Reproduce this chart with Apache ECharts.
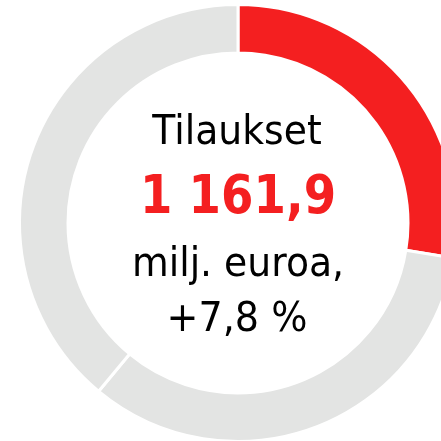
<!DOCTYPE html>
<html>
<head>
<meta charset="utf-8">
<script src="https://cdn.jsdelivr.net/npm/echarts@6/dist/echarts.min.js"></script>
<style>
  html, body { margin: 0; padding: 0; background: #fff; }
  #chart { width: 441px; height: 441px; }
</style>
</head>
<body>
<div id="chart"></div>
<script>
// osuudet (arvioitu kuvasta)
var names = ['Tilaukset', 'Muut A', 'Muut B'];
var values = [1161.9, 1410, 1644];
var colors = ['#f41f20', '#e3e4e3', '#e3e4e3'];
var lines = ['Tilaukset', '1 161,9', 'milj. euroa,', '+7,8 %'];

var myChart = echarts.init(document.getElementById('chart'));
var fontFamily = '"DejaVu Sans", Verdana, sans-serif';

var option = {
  animation: false,
  series: [{
    type: 'pie',
    center: [238, 223],
    radius: [170, 218.5],
    startAngle: 90,
    clockwise: true,
    silent: true,
    label: { show: false },
    labelLine: { show: false },
    itemStyle: { borderColor: '#fff', borderWidth: 3 },
    data: names.map(function (n, i) {
      return { name: n, value: values[i], itemStyle: { color: colors[i] } };
    })
  }],
  graphic: [
    { type: 'text', x: 237, y: 133, scaleX: 0.92, style: { text: lines[0], fill: '#000', font: '41px ' + fontFamily, align: 'center', verticalAlign: 'middle' } },
    { type: 'text', x: 238, y: 199, scaleX: 0.88, style: { text: lines[1], fill: '#f41f20', font: 'bold 53px ' + fontFamily, align: 'center', verticalAlign: 'middle' } },
    { type: 'text', x: 238, y: 265, scaleX: 0.92, style: { text: lines[2], fill: '#000', font: '41px ' + fontFamily, align: 'center', verticalAlign: 'middle' } },
    { type: 'text', x: 237, y: 320, scaleX: 0.93, style: { text: lines[3], fill: '#000', font: '41px ' + fontFamily, align: 'center', verticalAlign: 'middle' } }
  ]
};
myChart.setOption(option);
</script>
</body>
</html>
